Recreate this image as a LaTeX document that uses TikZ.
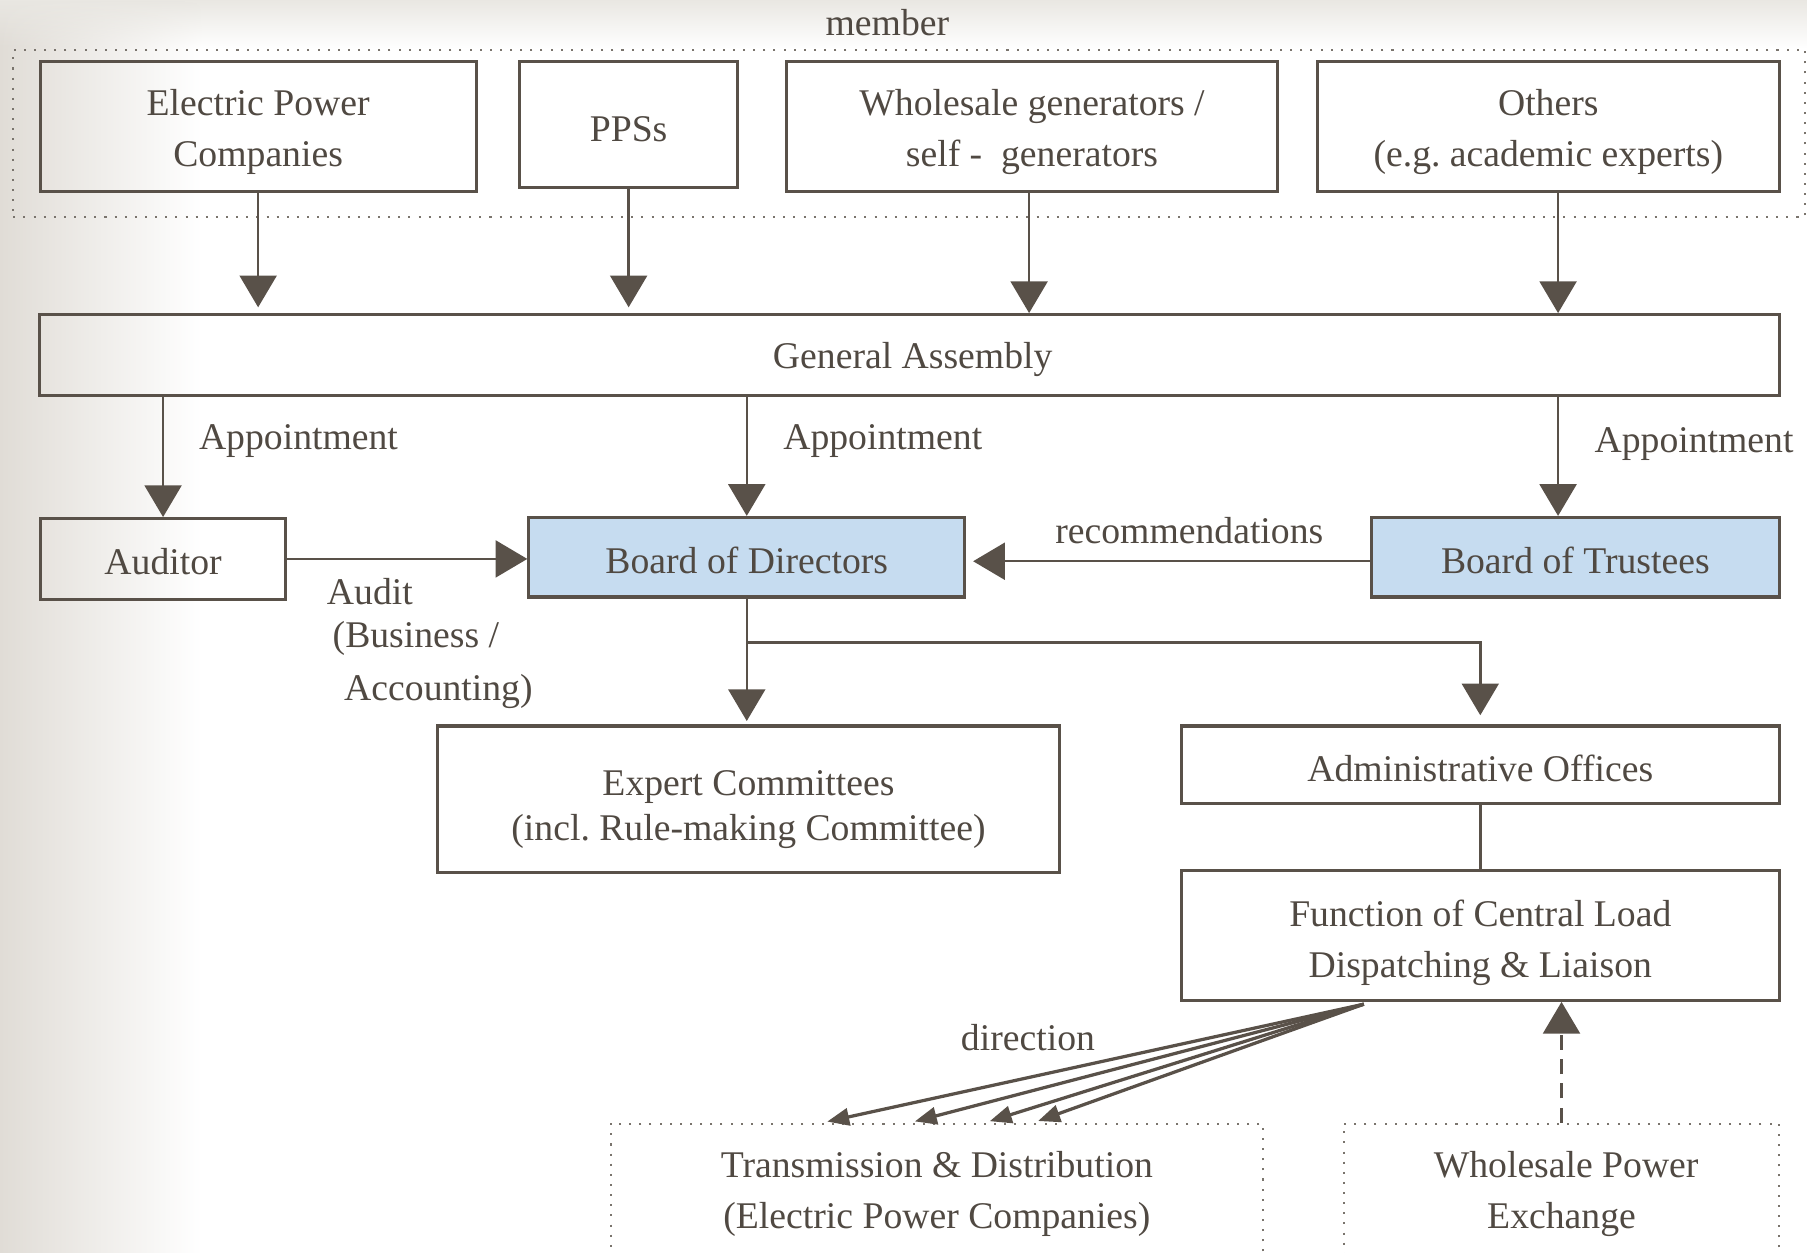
\documentclass[tikz,border=0pt]{standalone}
\usepackage{fontspec}
\setmainfont{Liberation Serif}
\frenchspacing
\usetikzlibrary{arrows.meta,fadings}
\definecolor{ink}{RGB}{89,81,73}
\definecolor{txt}{RGB}{80,73,66}
\definecolor{bgray}{RGB}{224,220,214}
\definecolor{lblue}{RGB}{198,220,240}
\newcommand{\lift}[1]{\rule{0pt}{#1}}
\tikzfading[name=fadeleft, left color=transparent!0, right color=transparent!100]
\tikzfading[name=fadetop, top color=transparent!0, bottom color=transparent!100]
\tikzset{
  box/.style={draw=ink, line width=0.75pt, inner sep=0pt, align=center},
  dotbox/.style={draw=ink!80, dotted, line width=0.5pt, inner sep=0pt, align=center},
  tshift/.style={execute at begin node={\lift{#1}}},
  arr/.style={draw=ink, line width=0.6pt, -{Triangle[length=2.75mm,width=3.2mm]}},
  small arr/.style={draw=ink, line width=0.8pt, -{Triangle[length=1.9mm,width=1.5mm]}},
  lbl/.style={inner sep=0pt, anchor=west}
}
\begin{document}
\begin{tikzpicture}[x=0.01cm, y=-0.01cm, text=txt, font=\fontsize{9.3}{12.5}\selectfont]
\useasboundingbox (0,0) rectangle (1568,1087);
\clip (0,0) rectangle (1568,1087);
\fill[bgray, path fading=fadeleft] (0,0) rectangle (175,1087);
\fill[bgray!70, path fading=fadetop] (0,0) rectangle (1568,42);

\node[dotbox, minimum width=15.54cm, minimum height=1.45cm] (mem) at (789,115.5) {};
\node[inner sep=0pt] (memlbl) at (770,20) {member};

\node[box, minimum width=3.78cm, minimum height=1.13cm] (epc) at (224,109.5) {\lift{9.3pt}Electric Power\\Companies};
\node[box, tshift=8.6pt, minimum width=1.89cm, minimum height=1.10cm] (pps) at (545.5,108) {PPSs};
\node[box, minimum width=4.25cm, minimum height=1.13cm] (whg) at (895.5,109.5) {\lift{9.3pt}Wholesale generators /\\self - \ generators};
\node[box, minimum width=4.01cm, minimum height=1.13cm] (oth) at (1343.5,109.5) {\lift{9.3pt}Others\\(e.g. academic experts)};

\node[box, tshift=8.8pt, minimum width=15.09cm, minimum height=0.70cm] (ga) at (789.5,308) {\hspace*{0.05cm}General Assembly};

\node[box, tshift=8pt, minimum width=2.13cm, minimum height=0.70cm] (aud) at (141.5,485) {Auditor};
\node[box, tshift=8.2pt, fill=lblue, minimum width=3.78cm, minimum height=0.69cm] (bod) at (648,483.5) {Board of Directors};
\node[box, tshift=8.2pt, fill=lblue, minimum width=3.54cm, minimum height=0.69cm] (bot) at (1367,483.5) {Board of Trustees};

\node[box, minimum width=5.39cm, minimum height=1.27cm] (exp) at (649.5,693.5) {\lift{11.5pt}Expert Committees\\[-1.4pt](incl. Rule-making Committee)};
\node[box, tshift=8.2pt, minimum width=5.19cm, minimum height=0.67cm] (adm) at (1284.5,663.5) {Administrative Offices};
\node[box, minimum width=5.19cm, minimum height=1.13cm] (fcl) at (1284.5,811.5) {\lift{10.4pt}Function of Central Load\\Dispatching \& Liaison};

\node[dotbox, minimum width=5.66cm, minimum height=1.16cm] (tnd) at (813,1033) {\lift{8.1pt}Transmission \& Distribution\\(Electric Power Companies)};
\node[dotbox, minimum width=3.78cm, minimum height=1.16cm] (wpe) at (1355,1033) {\lift{8.1pt}\hspace*{0.08cm}Wholesale Power\\Exchange};

\draw[arr, shorten >=0.5mm] (epc.south) -- (epc.south |- ga.north);
\draw[arr, shorten >=0.5mm] (pps.south) -- (pps.south |- ga.north);
\draw[arr] ([xshift=-0.025cm]whg.south) -- ([xshift=-0.025cm]whg.south |- ga.north);
\draw[arr] ([xshift=0.085cm]oth.south) -- ([xshift=0.085cm]oth.south |- ga.north);

\draw[arr] (ga.south -| aud.north) -- (aud.north);
\draw[arr] (ga.south -| bod.north) -- (bod.north);
\draw[arr] ([xshift=-0.15cm]ga.south -| bot.north) -- ([xshift=-0.15cm]bot.north);
\node[lbl] (app1) at (172,383) {Appointment};
\node[lbl] (app2) at (679,383) {Appointment};
\node[lbl] (app3) at (1383,385) {Appointment};

\draw[arr] (aud.east) -- (aud.east -| bod.west);
\node[lbl] (audit1) at (283,513) {Audit};
\node[lbl] (audit2) at (288,554) {(Business /};
\node[lbl] (audit3) at (298,600) {Accounting)};

\draw[arr, shorten >=0.6mm] ([yshift=-0.035cm]bot.west) -- ([yshift=-0.035cm]bot.west -| bod.east);
\node[inner sep=0pt] (rec) at (1032,460) {recommendations};

\draw[arr, shorten >=0.3mm] (bod.south) -- (bod.south |- exp.north);
\draw[arr, shorten >=0.8mm] ([yshift=-0.38cm]bod.south) -| (adm.north);
\draw[ink, line width=0.6pt] (adm.south) -- (fcl.north);

\coordinate (dsrc) at ([xshift=-1.01cm, yshift=-0.02cm]fcl.south);
\foreach \dx in {-0.99,-0.23,0.42,0.84} {
  \draw[small arr, shorten >=0.4mm] (dsrc) -- ([xshift=\dx cm]tnd.north);
}
\node[inner sep=0pt] (dir) at (892,900) {direction};

\draw[arr, dash pattern=on 1.3mm off 0.8mm] (wpe.north) -- (wpe.north |- fcl.south);
\end{tikzpicture}
\end{document}
